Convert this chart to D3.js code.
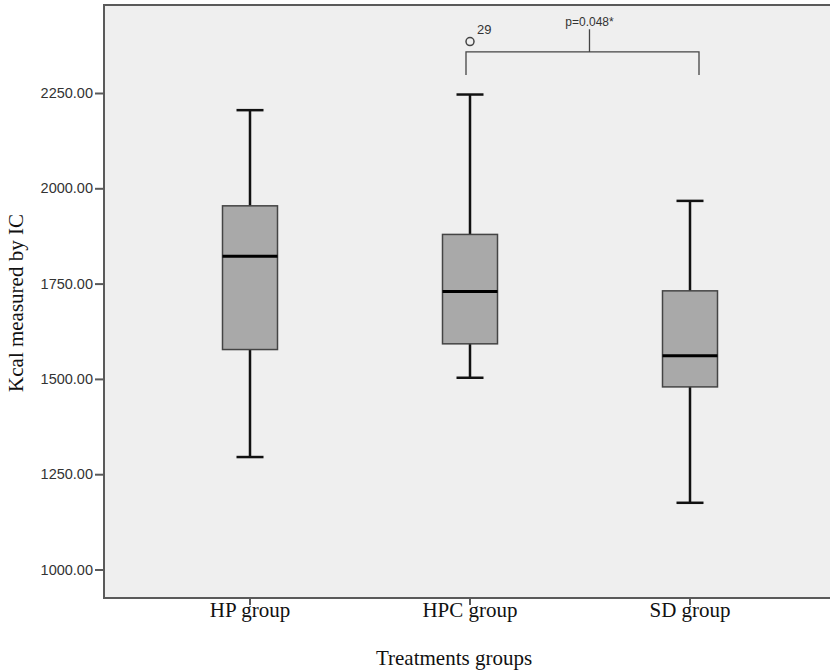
<!DOCTYPE html>
<html>
<head>
<meta charset="utf-8">
<script src="https://cdn.jsdelivr.net/npm/d3@7"></script>
<style>
  html, body { margin: 0; padding: 0; background: #fff; }
</style>
</head>
<body>
<div id="chart"></div>
<script>
// Boxplot: Kcal measured by IC per treatment group

// Data
const groups = ["HP group", "HPC group", "SD group"];
const whiskerLow = [1295, 1503, 1175];
const q1 = [1577, 1592, 1479];
const median = [1822, 1729, 1561];
const q3 = [1954, 1879, 1731];
const whiskerHigh = [2205, 2246, 1967];
const outliers = [{group: "HPC group", value: 2385, label: "29"}];
const yTicks = [1000, 1250, 1500, 1750, 2000, 2250];
const comparison = {from: "HPC group", to: "SD group", text: "p=0.048*",
                    legLow: 2297, level: 2358, top: 2417};

// Colors
const colorFrame = "#5a5a5a";
const colorPanel = "#efefef";
const colorBox = "#a9a9a9";
const colorTick = "#333";

const boxes = groups.map((g, i) => ({
  group: g, lo: whiskerLow[i], q1: q1[i], med: median[i], q3: q3[i], hi: whiskerHigh[i]
}));

// Dimensions
const width = 830, height = 672,
      frameLeft = 104, frameTop = 5, frameBottom = 598;

const x = d3.scaleBand()
    .domain(groups)
    .range([140, 800]);

const y = d3.scaleLinear()
    .domain([1000, 2250])
    .range([569.5, 93]);

const boxW = 55, capW = 27;
const serif = "Liberation Serif, Times New Roman, serif",
      sans = "Liberation Sans, Arial, sans-serif";

const svg = d3.select("#chart")
  .append("svg")
    .attr("width", width)
    .attr("height", height)
    .attr("viewBox", [0, 0, width, height]);

// Panel background
svg.append("rect")
    .attr("x", frameLeft)
    .attr("y", frameTop)
    .attr("width", width - frameLeft + 5)
    .attr("height", frameBottom - frameTop)
    .attr("fill", colorPanel)
    .attr("stroke", colorFrame)
    .attr("stroke-width", 2);

// Y axis
svg.append("g")
    .attr("transform", `translate(${frameLeft},0)`)
    .call(d3.axisLeft(y).tickValues(yTicks).tickFormat(d3.format(".2f"))
            .tickSize(9).tickPadding(2))
    .call(g => g.select(".domain").remove())
    .call(g => g.selectAll("line").attr("stroke", colorFrame).attr("stroke-width", 2))
    .call(g => g.selectAll("text")
        .attr("fill", colorTick)
        .attr("font-family", sans)
        .attr("font-size", "14.5px"));

// X axis
svg.append("g")
    .attr("transform", `translate(0,${frameBottom})`)
    .call(d3.axisBottom(x).tickSize(7).tickPadding(-3))
    .call(g => g.select(".domain").remove())
    .call(g => g.selectAll("line").attr("stroke", colorFrame).attr("stroke-width", 2))
    .call(g => g.selectAll("text")
        .attr("fill", "#111")
        .attr("font-family", serif)
        .attr("font-size", "21px"));

// Axis titles
svg.append("text")
    .attr("x", 454)
    .attr("y", 665)
    .attr("text-anchor", "middle")
    .attr("font-family", serif)
    .attr("font-size", "21px")
    .attr("fill", "#111")
    .text("Treatments groups");

svg.append("text")
    .attr("transform", "translate(23,303) rotate(-90)")
    .attr("text-anchor", "middle")
    .attr("font-family", serif)
    .attr("font-size", "21px")
    .attr("fill", "#111")
    .text("Kcal measured by IC");

// Boxes
const cx = d => x(d.group) + x.bandwidth() / 2;

const box = svg.append("g")
  .selectAll("g")
  .data(boxes)
  .join("g");

box.append("line")
    .attr("x1", cx).attr("x2", cx)
    .attr("y1", d => y(d.hi)).attr("y2", d => y(d.lo))
    .attr("stroke", "#111").attr("stroke-width", 2.5);

box.append("line")
    .attr("x1", d => cx(d) - capW / 2).attr("x2", d => cx(d) + capW / 2)
    .attr("y1", d => y(d.hi)).attr("y2", d => y(d.hi))
    .attr("stroke", "#111").attr("stroke-width", 2.5);

box.append("line")
    .attr("x1", d => cx(d) - capW / 2).attr("x2", d => cx(d) + capW / 2)
    .attr("y1", d => y(d.lo)).attr("y2", d => y(d.lo))
    .attr("stroke", "#111").attr("stroke-width", 2.5);

box.append("rect")
    .attr("x", d => cx(d) - boxW / 2)
    .attr("y", d => y(d.q3))
    .attr("width", boxW)
    .attr("height", d => y(d.q1) - y(d.q3))
    .attr("fill", colorBox)
    .attr("stroke", "#444")
    .attr("stroke-width", 1.5);

box.append("line")
    .attr("x1", d => cx(d) - boxW / 2).attr("x2", d => cx(d) + boxW / 2)
    .attr("y1", d => y(d.med)).attr("y2", d => y(d.med))
    .attr("stroke", "#000").attr("stroke-width", 3);

// Outliers
svg.append("g")
  .selectAll("circle")
  .data(outliers)
  .join("circle")
    .attr("cx", d => x(d.group) + x.bandwidth() / 2)
    .attr("cy", d => y(d.value))
    .attr("r", 4)
    .attr("fill", "none")
    .attr("stroke", "#444")
    .attr("stroke-width", 1.5);

svg.append("g")
  .selectAll("text")
  .data(outliers)
  .join("text")
    .attr("x", d => x(d.group) + x.bandwidth() / 2 + 7)
    .attr("y", d => y(d.value) - 8)
    .attr("font-family", sans)
    .attr("font-size", "13px")
    .attr("fill", "#333")
    .text(d => d.label);

// Significance bracket (hand drawn in the original, slightly off-centre)
const bx1 = x(comparison.from) + x.bandwidth() / 2 - 4,
      bx2 = x(comparison.to) + x.bandwidth() / 2 + 9,
      bmid = bx1 + (bx2 - bx1) * 0.53;

svg.append("path")
    .attr("d", `M${bx1},${y(comparison.legLow)}V${y(comparison.level)}H${bx2}V${y(comparison.legLow)}`
             + `M${bmid},${y(comparison.level)}V${y(comparison.top)}`)
    .attr("fill", "none")
    .attr("stroke", "#444")
    .attr("stroke-width", 1.3);

svg.append("text")
    .attr("x", bmid)
    .attr("y", y(comparison.top) - 3.5)
    .attr("text-anchor", "middle")
    .attr("font-family", sans)
    .attr("font-size", "12px")
    .attr("fill", "#333")
    .text(comparison.text);
</script>
</body>
</html>
